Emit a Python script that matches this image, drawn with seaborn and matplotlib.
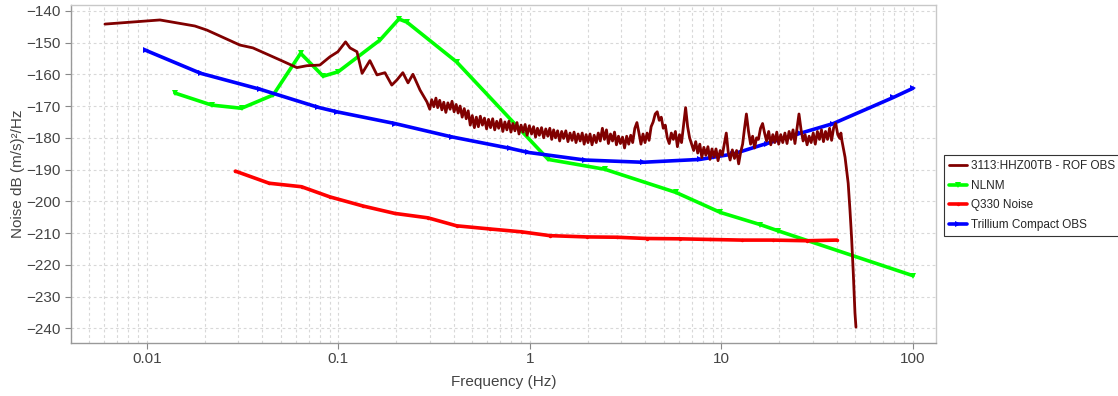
import matplotlib
matplotlib.use("Agg")
import matplotlib.pyplot as plt
import seaborn as sns
import pandas as pd
from matplotlib.ticker import FixedLocator, FixedFormatter, LogLocator, NullFormatter

# ---- station PSD (3113:HHZ00TB - ROF OBS), long-period part ----
lp_freq = [0.00604, 0.0117, 0.0178, 0.0206, 0.0306, 0.0358, 0.0496, 0.0607, 0.0685, 0.0800,
           0.0903, 0.0994, 0.109, 0.115, 0.125, 0.133, 0.146, 0.159, 0.175, 0.190,
           0.202, 0.217, 0.231, 0.245, 0.267, 0.290]
lp_db = [-144.2, -142.9, -144.8, -146.1, -150.8, -151.7, -155.5, -157.9, -157.3, -157.1,
         -154.5, -152.9, -149.8, -151.7, -152.9, -159.7, -155.7, -160.2, -159.5, -163.4,
         -161.8, -159.5, -162.7, -160.0, -165.0, -168.7]

# ---- station PSD, short-period band (0.3 - 42 Hz) ----
sp_freq = [
    0.300, 0.307, 0.315, 0.323, 0.330, 0.338, 0.347, 0.355, 0.364, 0.373,
    0.383, 0.392, 0.402, 0.412, 0.422, 0.432, 0.443, 0.454, 0.465, 0.476,
    0.488, 0.500, 0.513, 0.525, 0.538, 0.551, 0.565, 0.579, 0.594, 0.608,
    0.623, 0.639, 0.655, 0.671, 0.687, 0.704, 0.722, 0.740, 0.758, 0.777,
    0.796, 0.815, 0.835, 0.856, 0.877, 0.899, 0.921, 0.944, 0.967, 0.993,
    1.02, 1.045, 1.07, 1.095, 1.12, 1.15, 1.18, 1.21, 1.24, 1.27,
    1.30, 1.33, 1.36, 1.395, 1.43, 1.465, 1.50, 1.54, 1.58, 1.62,
    1.66, 1.70, 1.74, 1.785, 1.83, 1.875, 1.92, 1.965, 2.01, 2.06,
    2.11, 2.165, 2.22, 2.275, 2.33, 2.39, 2.45, 2.51, 2.57, 2.635,
    2.70, 2.765, 2.83, 2.90, 2.97, 3.045, 3.12, 3.20, 3.28, 3.36,
    3.44, 3.53, 3.62, 3.71, 3.80, 3.895, 3.99, 4.09, 4.19, 4.295,
    4.40, 4.51, 4.62, 4.735, 4.85, 4.97, 5.09, 5.215, 5.34, 5.475,
    5.61, 5.75, 5.89, 6.04, 6.19, 6.345, 6.50, 6.66, 6.82, 6.99,
    7.16, 7.34, 7.52, 7.71, 7.90, 8.095, 8.29, 8.50, 8.71, 8.925,
    9.14, 9.37, 9.60, 9.85, 10.1, 10.35, 10.6, 10.85, 11.1, 11.4,
    11.7, 12.0, 12.3, 12.6, 12.9, 13.2, 13.5, 13.85, 14.2, 14.55,
    14.9, 15.25, 15.6, 16.0, 16.4, 16.8, 17.2, 17.65, 18.1, 18.55,
    19.0, 19.45, 19.9, 20.4, 20.9, 21.45, 22.0, 22.55, 23.1, 23.65,
    24.2, 24.8, 25.4, 26.05, 26.7, 27.35, 28.0, 28.7, 29.4, 30.15,
    30.9, 31.7, 32.5, 33.3, 34.1, 34.95, 35.8, 36.7, 37.6, 38.55,
    39.5, 40.5, 41.5, 42.05,
]
sp_db = [
    -171.0, -168.0, -170.2, -167.5, -170.5, -168.2, -171.2, -168.8, -172.0, -169.0,
    -171.0, -168.5, -171.8, -169.5, -172.2, -170.0, -173.5, -170.8, -174.0, -171.5,
    -176.0, -173.0, -176.8, -173.5, -176.5, -173.2, -176.0, -173.8, -177.2, -174.2,
    -176.8, -174.0, -177.5, -174.8, -177.0, -174.2, -178.0, -175.0, -177.5, -174.8,
    -178.2, -175.5, -177.8, -175.2, -178.8, -176.0, -178.2, -175.8, -179.2, -176.2,
    -178.8, -176.5, -179.8, -177.0, -179.2, -176.8, -180.0, -177.2, -179.5, -177.0,
    -180.5, -177.5, -180.0, -177.8, -181.0, -178.0, -180.2, -177.8, -181.2, -178.5,
    -180.8, -178.2, -181.5, -178.8, -181.0, -178.5, -182.0, -179.0, -181.5, -178.8,
    -182.2, -179.2, -181.5, -178.5, -181.0, -177.0, -180.5, -177.5, -181.8, -178.8,
    -181.0, -178.2, -182.2, -179.5, -181.8, -179.8, -183.2, -179.5, -182.0, -179.2,
    -181.5, -177.0, -175.2, -178.5, -182.0, -178.8, -181.5, -178.5, -180.8, -176.5,
    -175.0, -172.5, -171.8, -174.5, -173.5, -177.0, -176.0, -180.0, -181.8, -178.5,
    -180.5, -178.0, -182.8, -179.0, -181.5, -176.0, -170.5, -176.5, -180.0, -182.0,
    -184.0, -181.2, -184.8, -182.0, -186.2, -183.0, -185.5, -182.8, -186.8, -183.5,
    -186.0, -183.5, -187.2, -184.0, -185.5, -182.0, -178.5, -184.5, -187.0, -183.8,
    -186.5, -184.0, -188.2, -184.5, -182.0, -177.0, -172.5, -178.0, -182.0, -179.5,
    -183.2, -180.0, -180.5, -177.0, -175.5, -178.5, -181.0, -178.0, -182.2, -179.0,
    -181.5, -178.2, -182.0, -179.0, -181.5, -178.5, -181.8, -178.0, -180.5, -177.5,
    -181.8, -177.0, -172.5, -177.5, -181.0, -179.0, -182.2, -179.5, -181.5, -178.5,
    -182.0, -178.0, -180.5, -177.5, -181.2, -178.0, -180.5, -177.0, -180.8, -176.8,
    -175.5, -179.0, -180.2, -178.5,
]

# ---- station PSD, anti-alias roll-off ----
ro_freq = [42.6, 44.2, 45.9, 46.9, 47.8, 48.8, 49.8, 50.4]
ro_db = [-181.0, -186.1, -194.3, -202.8, -211.3, -222.6, -235.2, -239.6]

# ---- New Low Noise Model ----
nlnm_freq = [0.0140, 0.0218, 0.0312, 0.0457, 0.0635, 0.0833, 0.0998, 0.165, 0.207,
             0.228, 0.414, 1.246, 2.46, 5.79, 9.88, 15.9, 19.8, 100.0]
nlnm_db = [-165.9, -169.7, -170.7, -166.5, -153.4, -160.6, -159.2, -149.2, -142.6,
           -143.6, -156.1, -186.8, -189.9, -197.2, -203.5, -207.3, -209.3, -223.4]

# ---- Q330 digitizer self-noise ----
q330_freq = [0.0290, 0.0435, 0.0642, 0.0903, 0.135, 0.197, 0.294, 0.414, 0.618, 0.905,
             1.27, 1.98, 2.84, 4.07, 6.07, 8.71, 12.75, 18.6, 27.9, 40.0]
q330_db = [-190.5, -194.3, -195.4, -198.6, -201.5, -203.8, -205.2, -207.7, -208.7, -209.6,
           -210.8, -211.2, -211.3, -211.7, -211.8, -212.0, -212.2, -212.2, -212.4, -212.2]

# ---- Trillium Compact OBS self-noise ----
tc_freq = [0.0099, 0.0191, 0.0389, 0.0784, 0.0979, 0.197, 0.390, 0.786, 0.980, 1.94,
           3.89, 7.72, 11.5, 17.2, 25.7, 38.4, 78.9, 100.0]
tc_db = [-152.5, -159.7, -164.7, -170.4, -171.8, -175.5, -179.7, -183.3, -184.6, -187.0,
         -187.7, -186.8, -185.1, -181.8, -178.6, -175.5, -167.3, -164.4]

series_names = ["3113:HHZ00TB - ROF OBS", "NLNM", "Q330 Noise", "Trillium Compact OBS"]
series_colors = ["#800000", "#00ff00", "#ff0000", "#0000ff"]

sns.set_theme(style="white")
plt.rcParams["font.family"] = ["Liberation Sans", "DejaVu Sans"]

fig = plt.figure(figsize=(11.18, 3.96), dpi=100)
ax = fig.add_axes([0.0632, 0.1346, 0.774, 0.8535])

frames = [
    pd.DataFrame({"freq": lp_freq + sp_freq + ro_freq, "db": lp_db + sp_db + ro_db}),
    pd.DataFrame({"freq": nlnm_freq, "db": nlnm_db}),
    pd.DataFrame({"freq": q330_freq, "db": q330_db}),
    pd.DataFrame({"freq": tc_freq, "db": tc_db}),
]
styles = [
    dict(linewidth=2.0, marker=None),
    dict(linewidth=2.6, marker="v", markersize=4.5),
    dict(linewidth=2.6, marker="o", markersize=2.5),
    dict(linewidth=2.6, marker=">", markersize=4.5),
]
for i in [1, 2, 3, 0]:
    sns.lineplot(data=frames[i], x="freq", y="db", ax=ax, color=series_colors[i],
                 estimator=None, sort=False, label=series_names[i],
                 markeredgewidth=0, zorder=3 + (i == 0), **styles[i])

ax.set_xscale("log")
ax.set_xlim(0.004, 131.9)
ax.set_ylim(-244.5, -138.1)

ax.xaxis.set_major_locator(FixedLocator([0.01, 0.1, 1, 10, 100]))
ax.xaxis.set_major_formatter(FixedFormatter(["0.01", "0.1", "1", "10", "100"]))
ax.xaxis.set_minor_locator(LogLocator(base=10, subs=range(2, 10)))
ax.xaxis.set_minor_formatter(NullFormatter())
ax.set_yticks(list(range(-240, -139, 10)))

ax.grid(which="both", axis="x", color="#d8d8d8", linestyle=(0, (2.5, 2.5)), linewidth=0.8)
ax.grid(which="major", axis="y", color="#d8d8d8", linestyle=(0, (2.5, 2.5)), linewidth=0.8)
ax.set_axisbelow(True)

ax.tick_params(axis="both", which="major", direction="out", length=4, width=0.8,
               color="#888888", labelcolor="#444444", labelsize=11, pad=3)
ax.tick_params(axis="x", which="minor", length=0)
ax.tick_params(left=True, bottom=True)

for side in ["left", "bottom"]:
    ax.spines[side].set_color("#999999")
    ax.spines[side].set_linewidth(1.0)
for side in ["top", "right"]:
    ax.spines[side].set_color("#c8c8c8")
    ax.spines[side].set_linewidth(1.0)

ax.set_xlabel("Frequency (Hz)", fontsize=11, color="#444444", labelpad=6)
ax.set_ylabel("Noise dB (m/s)²/Hz", fontsize=11, color="#444444", labelpad=1)

h, l = ax.get_legend_handles_labels()
order = [l.index(n) for n in series_names]
leg = ax.legend([h[k] for k in order], [l[k] for k in order],
                loc="center left", bbox_to_anchor=(0.8444, 0.506),
                bbox_transform=fig.transFigure, fontsize=8.5, frameon=True,
                fancybox=False, edgecolor="#333333", framealpha=1,
                handlelength=1.5, handletextpad=0.3, borderpad=0.45,
                labelspacing=0.65, borderaxespad=0)
leg.get_frame().set_linewidth(0.8)

fig.savefig("out.png", dpi=100)
